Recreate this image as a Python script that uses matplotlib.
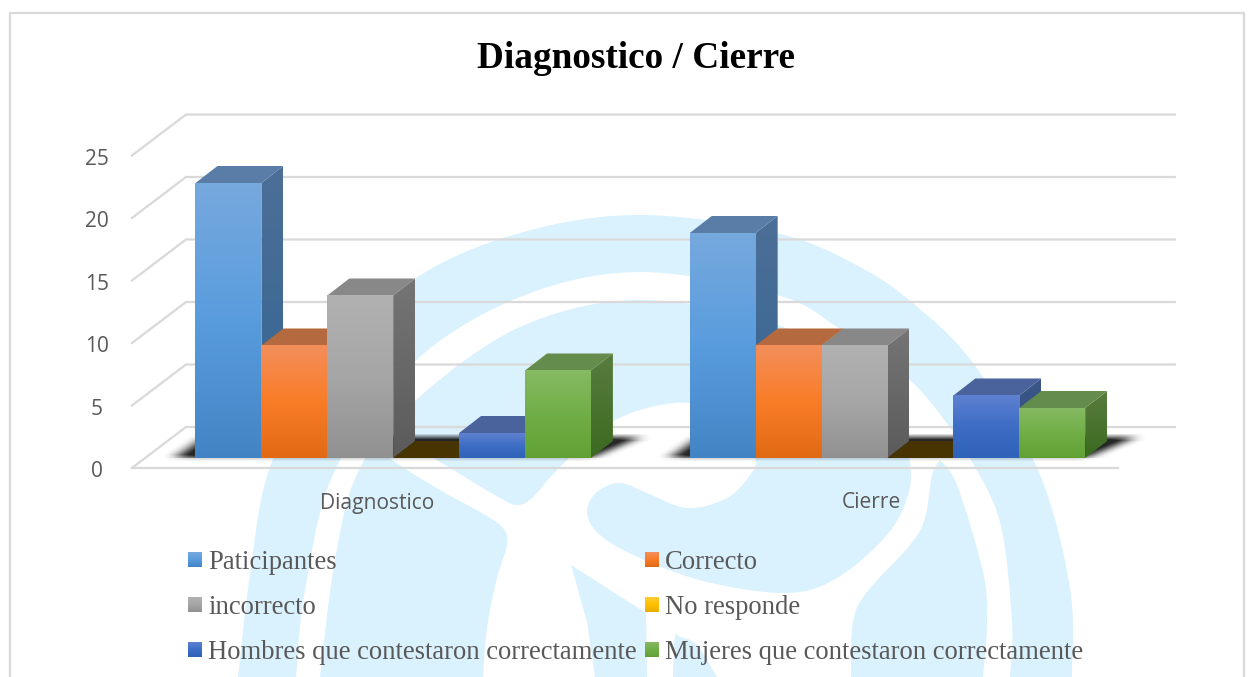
import matplotlib
matplotlib.use("Agg")
from matplotlib import pyplot as plt
from matplotlib.colors import LinearSegmentedColormap
from matplotlib.patches import Polygon
import numpy as np

categories = ["Diagnostico", "Cierre"]
series_names = ["Paticipantes", "Correcto", "incorrecto", "No responde",
                "Hombres que contestaron correctamente", "Mujeres que contestaron correctamente"]
participantes = [22, 18]
correcto = [9, 9]
incorrecto = [13, 9]
no_responde = [0, 0]
hombres = [2, 5]
mujeres = [7, 4]
y_ticks = [0, 5, 10, 15, 20, 25]

front_colors = [["#76a9de", "#599cdd", "#4384c4"],
                ["#f38f5b", "#f97c27", "#e26a15"],
                ["#b1b1b1", "#a6a6a6", "#919191"],
                ["#ffcc33", "#ffc000", "#e8ae00"],
                ["#5f81d0", "#3d6dc5", "#2f62b9"],
                ["#86ba63", "#70ae46", "#61a134"]]
side_colors = [["#4c6f97", "#346594"],
               ["#a65a2a", "#8f4c1c"],
               ["#757575", "#5b5b5b"],
               ["#6d5200", "#473400"],
               ["#3a5688", "#30507f"],
               ["#587c3f", "#3c6a20"]]
top_colors = ["#5a7da8", "#b5693f", "#888888", "#473400", "#4a639c", "#648c4c"]

# watermark outline in picture pixels, just a background decoration
wm_color = "#daf1fe"
band_outer = [(238, 677), (250, 575), (269, 470), (320, 368), (413, 280), (520, 233), (640, 215), (777, 233),
              (860, 267), (915, 305), (973, 363), (1038, 470), (1070, 588), (1072, 677)]
band_inner = [(1010, 677), (1012, 622), (1000, 522), (970, 458), (957, 437), (910, 380), (837, 327), (777, 295),
              (640, 272), (520, 297), (413, 363), (335, 470), (305, 590), (296, 677)]
swirl_top = [(320, 677), (335, 560), (359, 470), (416, 400), (520, 327), (640, 300), (778, 325), (860, 380),
             (900, 440), (910, 462), (908, 495), (887, 535), (837, 578), (787, 593), (707, 582), (640, 558),
             (600, 535), (587, 512), (597, 492), (620, 483), (647, 493), (687, 508), (727, 498), (750, 475),
             (755, 458), (735, 420), (690, 403), (640, 410), (600, 430), (557, 470), (533, 497), (518, 505),
             (500, 498), (440, 462), (400, 438)]
swirl_low = [(382, 440), (390, 458), (440, 490), (480, 512), (503, 528), (507, 545), (497, 578), (487, 628), (483, 677)]
right_leaf_left = [(940, 460), (932, 475), (925, 518), (910, 545), (867, 592), (853, 622), (851, 677)]
right_leaf_right = [(983, 677), (987, 622), (983, 572), (957, 485), (940, 460)]
mid_piece = [(571, 565), (646, 613), (647, 677), (595, 677), (587, 622)]
small_piece = [(673, 677), (675, 637), (680, 637), (697, 645), (717, 677)]

# pixel layout of the 3d chart
BAR_W = 65.9
PX_X0 = 195.5
PX_Y0 = 458
PX_UNIT = 12.5
DX = 22 / BAR_W
DY = 17 / PX_UNIT
GROUP_STEP = 7.5


def smooth(points, n=12):
    pts = np.array(points, dtype=float)
    pts = np.vstack([pts[0], pts, pts[-1]])
    out = []
    for i in range(1, len(pts) - 2):
        t = np.linspace(0, 1, n, endpoint=False)[:, None]
        p0, p1, p2, p3 = pts[i - 1], pts[i], pts[i + 1], pts[i + 2]
        out.append(0.5 * (2 * p1 + (p2 - p0) * t + (2 * p0 - 5 * p1 + 4 * p2 - p3) * t ** 2
                          + (3 * p1 - p0 - 3 * p2 + p3) * t ** 3))
    out.append(pts[-2:-1])
    return np.vstack(out)


def draw_shadow(ax, x0, z):
    # blurred trapezoid under a whole group of bars
    ext = [x0 - 1.2, x0 + 8.0, -0.8, 3.2]
    nx = int((ext[1] - ext[0]) * BAR_W)
    ny = int((ext[3] - ext[2]) * PX_UNIT)
    xs = np.linspace(ext[0], ext[1], nx)
    ys = np.linspace(ext[3], ext[2], ny)
    frac = np.clip(ys / 1.7, 0, 1)
    left = x0 - 0.3 + 0.45 * frac
    right = x0 + 6.0 + 0.75 * frac
    mask = np.array([((xs >= l) & (xs <= r) & (y >= 0) & (y <= 1.7)).astype(float)
                     for y, l, r in zip(ys, left, right)])
    kx = np.ones(17) / 17
    ky = np.ones(7) / 7
    for _ in range(2):
        mask = np.apply_along_axis(lambda m: np.convolve(m, kx, mode="same"), 1, mask)
    mask = np.apply_along_axis(lambda m: np.convolve(m, ky, mode="same"), 0, mask)
    below = ys < 0
    mask[below] *= 0.35
    rgba = np.zeros((ny, nx, 4))
    rgba[..., 3] = np.clip(mask * 1.15, 0, 1) * 0.85
    ax.imshow(rgba, extent=ext, aspect="auto", zorder=z)


def draw_bar(ax, x, h, i, z):
    grad = np.linspace(0, 1, 128)[:, None]
    front = LinearSegmentedColormap.from_list("f", front_colors[i])
    side = LinearSegmentedColormap.from_list("s", side_colors[i])
    if h > 0:
        im = ax.imshow(grad, extent=[x + 1, x + 1 + DX, 0, h + DY], cmap=side, aspect="auto", zorder=z)
        im.set_clip_path(Polygon([(x + 1, 0), (x + 1 + DX, DY), (x + 1 + DX, h + DY), (x + 1, h)],
                                 transform=ax.transData))
    ax.add_patch(Polygon([(x, h), (x + DX, h + DY), (x + 1 + DX, h + DY), (x + 1, h)],
                         facecolor=top_colors[i], edgecolor="none", zorder=z))
    if h > 0:
        ax.imshow(grad, extent=[x, x + 1, 0, h], cmap=front, aspect="auto", zorder=z)


fig = plt.figure(figsize=(12.52, 6.77), dpi=100)

bg = fig.add_axes([0, 0, 1, 1], zorder=0)
bg.set_xlim(0, 1252)
bg.set_ylim(677, 0)
bg.axis("off")
bg.add_patch(Polygon(np.vstack([smooth(band_outer), smooth(band_inner)]), facecolor=wm_color, edgecolor="none"))
bg.add_patch(Polygon(np.vstack([smooth(swirl_top), smooth(swirl_low)]), facecolor=wm_color, edgecolor="none"))
bg.add_patch(Polygon(np.vstack([smooth(right_leaf_left), smooth(right_leaf_right)]), facecolor=wm_color, edgecolor="none"))
bg.add_patch(Polygon(mid_piece, facecolor=wm_color, edgecolor="none"))
bg.add_patch(Polygon(smooth(small_piece), facecolor=wm_color, edgecolor="none"))
bg.plot([10, 10, 1244, 1244], [677, 12.5, 12.5, 677], color="#d9d9d9", lw=1.6)

ax = fig.add_axes([0, 0, 1, 1], zorder=1)
ax.patch.set_alpha(0)
ax.axis("off")
xlim = (-PX_X0 / BAR_W, (1252 - PX_X0) / BAR_W)
ylim = ((PX_Y0 - 677) / PX_UNIT, PX_Y0 / PX_UNIT)

# walls and floor
wall_front, wall_back, wall_right, floor_right = -0.964, -0.144, 14.86, 14.0
y_back, y_front = 2.48, -0.8
for t in y_ticks:
    ax.plot([wall_front, wall_back, wall_right], [t + y_front, t + y_back, t + y_back],
            color="#d9d9d9", lw=1.6, zorder=1, solid_joinstyle="miter")
    ax.text(wall_front - 0.53, t + y_front - 0.3, str(t), ha="center", va="center", fontsize=15,
            family="Open Sans", color="#595959")
ax.plot([wall_front, floor_right], [y_front, y_front], color="#d9d9d9", lw=1.6, zorder=1)

all_series = [participantes, correcto, incorrecto, no_responde, hombres, mujeres]
z = 5
for g, cat in enumerate(categories):
    x0 = g * GROUP_STEP
    draw_shadow(ax, x0, 3)
    for i in range(len(all_series)):
        draw_bar(ax, x0 + i, all_series[i][g], i, z)
        z += 1
    ax.text(x0 + 2.76, -3.6, cat, ha="center", va="center", fontsize=15.1, family="Open Sans", color="#595959")

ax.set_xlim(*xlim)
ax.set_ylim(*ylim)

fig.text(636 / 1252, 1 - 58.5 / 677, "Diagnostico / Cierre", ha="center", va="center", fontsize=26.8,
         family="Liberation Serif", weight="bold", color="black")

# legend, two columns filled row by row
leg_x = [188, 645]
leg_y = [560, 605, 650]
grad = np.linspace(0, 1, 32)[:, None]
for i, name in enumerate(series_names):
    sx = leg_x[i % 2]
    sy = leg_y[i // 2]
    bg.imshow(grad, extent=[sx, sx + 14, sy + 7.5, sy - 7.5], aspect="auto", origin="upper", zorder=3,
              cmap=LinearSegmentedColormap.from_list("l", front_colors[i]))
    bg.text(sx + 20, sy + 2.5, name, ha="left", va="center", fontsize=19.2, family="Liberation Serif", color="#595959")
bg.set_xlim(0, 1252)
bg.set_ylim(677, 0)

fig.savefig("out.png", dpi=100)
